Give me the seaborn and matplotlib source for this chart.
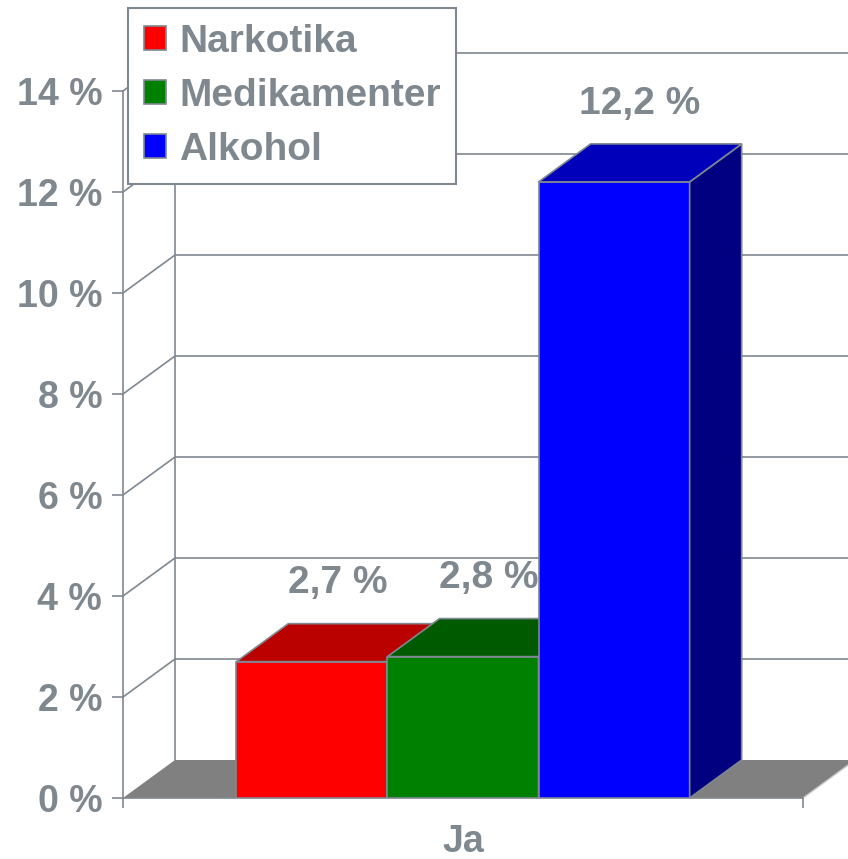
import matplotlib
matplotlib.use("Agg")
import pandas as pd
import matplotlib.pyplot as plt
import seaborn as sns
from matplotlib.patches import Polygon, Patch, Rectangle

# data
groups = ["Ja", "Ja", "Ja"]
substances = ["Narkotika", "Medikamenter", "Alkohol"]
values = [2.7, 2.8, 12.2]
yticks = [0, 2, 4, 6, 8, 10, 12, 14]

front_colors = ["#ff0000", "#008000", "#0000ff"]
top_colors = ["#bb0000", "#005a00", "#0000bb"]
side_colors = ["#800000", "#004000", "#000080"]
GREY = "#7f8890"
TXT = "#80888f"
FLOOR = "#808080"

sns.set_style("white")
plt.rcParams["font.family"] = ["Liberation Sans", "DejaVu Sans"]
plt.rcParams["font.weight"] = "bold"

df = pd.DataFrame({"group": groups, "substance": substances, "value": values})

W, H = 848, 859
fig = plt.figure(figsize=(W / 100, H / 100), dpi=100)
ax = fig.add_axes([123 / W, (H - 798) / H, 680 / W, 707 / H])

sns.barplot(data=df, x="group", y="value", hue="substance", hue_order=substances,
            palette=front_colors, saturation=1, width=0.8, errorbar=None,
            edgecolor=GREY, linewidth=1.2, legend=False, ax=ax)

bars = sorted([p for p in ax.patches if isinstance(p, Rectangle)], key=lambda p: p.get_x())

ax.set_xlim(-0.6, 0.6)
ax.set_ylim(0, 14)

# fake 3d depth (in data units)
dx = 52 / 680 * 1.2
dy = 38 / 707 * 14
x_left, x_right = ax.get_xlim()

floor = Polygon([(x_left, 0), (x_right, 0), (x_right + dx, dy), (x_left + dx, dy)],
                closed=True, fc=FLOOR, ec="none", zorder=1, clip_on=False)
ax.add_patch(floor)
ax.plot([x_right, x_right + dx], [0, dy], color="#c8c8c8", lw=1, zorder=1.5, clip_on=False)

for t in yticks[1:]:
    ax.plot([x_left, x_left + dx, x_right + dx * 2], [t, t + dy, t + dy],
            color=GREY, lw=1.2, zorder=2, clip_on=False)
ax.plot([x_left + dx, x_left + dx], [dy, yticks[-1] + dy], color=GREY, lw=1.2, zorder=2, clip_on=False)

for i, p in enumerate(bars):
    x0, w, h = p.get_x(), p.get_width(), p.get_height()
    z = 3 + i
    p.set_zorder(z)
    top = Polygon([(x0, h), (x0 + w, h), (x0 + w + dx, h + dy), (x0 + dx, h + dy)],
                  closed=True, fc=top_colors[i], ec=GREY, lw=1.2, zorder=z, clip_on=False)
    side = Polygon([(x0 + w, 0), (x0 + w + dx, dy), (x0 + w + dx, h + dy), (x0 + w, h)],
                   closed=True, fc=side_colors[i], ec=GREY, lw=1.2, zorder=z, clip_on=False)
    ax.add_patch(side)
    ax.add_patch(top)
    lab = f"{values[i]:.1f} %".replace(".", ",")
    ax.annotate(lab, xy=(x0 + w / 2 + dx / 2, h + dy), xytext=(0, 29),
                textcoords="offset points", ha="center", va="center",
                fontsize=28, color=TXT, fontweight="bold", zorder=10)

# axes styling
for s in ["top", "right"]:
    ax.spines[s].set_visible(False)
for s in ["left", "bottom"]:
    ax.spines[s].set_color(GREY)
    ax.spines[s].set_linewidth(1.2)

ax.set_yticks(yticks, [f"{t} %" for t in yticks])
ax.tick_params(axis="y", left=True, length=8, width=1.2, color=GREY,
               labelcolor=TXT, labelsize=27, pad=7)
ax.set_xticks([0], ["Ja"])
ax.set_xticks([x_left, x_right], minor=True)
ax.tick_params(axis="x", which="major", length=0, pad=19, labelsize=27, labelcolor=TXT)
ax.tick_params(axis="x", which="minor", bottom=True, length=7, width=1.2, color=GREY)
ax.set_xlabel("")
ax.set_ylabel("")

handles = [Patch(facecolor=c, edgecolor=GREY, lw=1.2) for c in front_colors]
leg = fig.legend(handles, substances, loc="upper left", bbox_to_anchor=(128 / W, 1 - 8 / H),
                 frameon=True, fancybox=False, edgecolor=GREY, framealpha=1,
                 fontsize=28, labelcolor=TXT, handlelength=0.58, handleheight=0.58,
                 handletextpad=0.33, borderpad=0.4, labelspacing=0.47, borderaxespad=0)
leg.get_frame().set_linewidth(1.5)

fig.savefig("out.png", dpi=100)
